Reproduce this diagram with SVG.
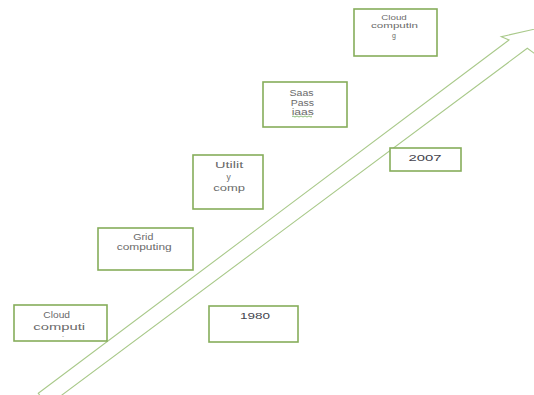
<svg xmlns="http://www.w3.org/2000/svg" width="534" height="395" viewBox="0 0 534 395">
  <style>
    .box { fill: #ffffff; stroke: #86ad5a; stroke-width: 1.6; }
    .lbl { font-family: "Liberation Sans", Arial, sans-serif; font-size: 8.5px; fill: #6a6a6a; text-anchor: middle; }
    .sm { font-size: 7px; }
    .num { font-family: "Liberation Sans", Arial, sans-serif; font-size: 9px; fill: #44444e; text-anchor: middle; }
    .arrow { fill: none; stroke: #a9c98a; stroke-width: 1.1; stroke-linejoin: miter; }
  </style>
  <rect width="534" height="395" fill="#ffffff"/>
  <g id="connectors">
    <polygon class="arrow" points="38.3,393.3 509,40 501.3,36.7 548,26 540,57.5 527.3,48.3 47.6,405.7"/>
  </g>
  <g id="node-cloud-2007">
    <rect class="box" x="354" y="9" width="83" height="47"/>
    <text class="lbl sm" x="394" y="19.5" textLength="25.5" lengthAdjust="spacingAndGlyphs">Cloud</text>
    <text class="lbl sm" x="394.5" y="27.8" textLength="47" lengthAdjust="spacingAndGlyphs">computin</text>
    <text class="lbl sm" x="394" y="37.5">g</text>
  </g>
  <g id="node-saas">
    <rect class="box" x="263" y="82" width="84" height="45"/>
    <text class="lbl" x="301.5" y="96" textLength="24" lengthAdjust="spacingAndGlyphs">Saas</text>
    <text class="lbl" x="302.3" y="106" textLength="23.3" lengthAdjust="spacingAndGlyphs">Pass</text>
    <text class="lbl" x="302.8" y="115" textLength="22.3" lengthAdjust="spacingAndGlyphs">iaas</text>
    <path d="M292,116.5 q1,-1 2,0 t2,0 t2,0 t2,0 t2,0 t2,0 t2,0 t2,0 t2,0 t2,0" fill="none" stroke="#5aa040" stroke-width="0.7"/>
  </g>
  <g id="node-utility">
    <rect class="box" x="193" y="155" width="70" height="54"/>
    <text class="lbl" x="229.2" y="168" textLength="28.3" lengthAdjust="spacingAndGlyphs">Utilit</text>
    <text class="lbl" x="228.5" y="179.5">y</text>
    <text class="lbl" x="229.2" y="191" textLength="31.7" lengthAdjust="spacingAndGlyphs">comp</text>
  </g>
  <g id="node-grid">
    <rect class="box" x="98" y="228" width="95" height="42"/>
    <text class="lbl" x="143.3" y="239.5" textLength="20" lengthAdjust="spacingAndGlyphs">Grid</text>
    <text class="lbl" x="144.2" y="250" textLength="55" lengthAdjust="spacingAndGlyphs">computing</text>
  </g>
  <g id="node-cloud-1980">
    <rect class="box" x="14" y="305" width="93" height="36"/>
    <text class="lbl" x="56.7" y="318" textLength="26.7" lengthAdjust="spacingAndGlyphs">Cloud</text>
    <text class="lbl" x="59.2" y="330" textLength="51.7" lengthAdjust="spacingAndGlyphs">computi</text>
    <text class="lbl" x="63" y="338" style="font-size:6px">-</text>
  </g>
  <g id="node-1980">
    <rect class="box" x="209" y="306" width="89" height="36"/>
    <text class="num" x="255" y="319" textLength="30" lengthAdjust="spacingAndGlyphs">1980</text>
  </g>
  <g id="node-2007">
    <rect class="box" x="390" y="148" width="71" height="23"/>
    <text class="num" x="425" y="161" textLength="33" lengthAdjust="spacingAndGlyphs">2007</text>
  </g>
</svg>
